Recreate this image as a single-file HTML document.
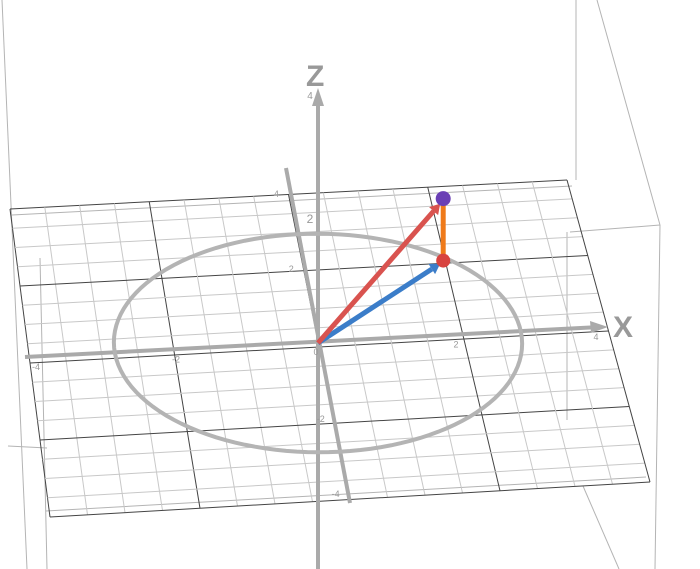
<!DOCTYPE html>
<html><head><meta charset="utf-8"><style>
html,body{margin:0;padding:0;background:#fff;}
svg{display:block;font-family:"Liberation Sans",sans-serif;}
</style></head><body>
<svg id="c" width="700" height="569" viewBox="0 0 700 569">
<g id="box" stroke="#b4b4b4" stroke-width="1" fill="none">
<line x1="2" y1="0" x2="27" y2="569"/>
<line x1="40" y1="258" x2="47" y2="569"/>
<line x1="8" y1="446" x2="47" y2="448"/>
<line x1="576" y1="0" x2="576" y2="180"/>
<line x1="597" y1="0" x2="660" y2="225"/>
<line x1="660" y1="225" x2="655" y2="569"/>
<line x1="570" y1="232" x2="660" y2="225"/>
<line x1="583" y1="486" x2="619" y2="569"/>
<line x1="567" y1="232" x2="567" y2="420"/>
<line x1="12" y1="215" x2="572" y2="186"/>
<line x1="46" y1="511" x2="646" y2="477"/>
</g>
<g id="grid"></g>
<g id="marks"></g>
</svg>
<script>
// data
const pointGround = [2, 2, 0];
const pointTop = [2, 2, 1];
const circleRadius = [2.9];
const xTicks = [-4, -2, 0, 2, 4];
const yTicks = [-4, -2, 2, 4];
const zTicks = [2, 4];

const NS = "http://www.w3.org/2000/svg";
const O = [318, 343], ex = [70, -3.7], ey = [-7.4, -37.5], ez = [0, -62];
function P(x, y, z) { return [O[0] + x*ex[0] + y*ey[0] + z*ez[0], O[1] + x*ex[1] + y*ey[1] + z*ez[1]]; }
function mk(tag, attrs, parent) {
  const e = document.createElementNS(NS, tag);
  for (const k in attrs) e.setAttribute(k, attrs[k]);
  parent.appendChild(e); return e;
}
const grid = document.getElementById('grid');
const marks = document.getElementById('marks');
const TL=[10,209], TR=[567,180], BR=[650,482], BL=[50,517];
function B(u,v){
  const top=[TL[0]+(TR[0]-TL[0])*u, TL[1]+(TR[1]-TL[1])*u];
  const bot=[BL[0]+(BR[0]-BL[0])*u, BL[1]+(BR[1]-BL[1])*u];
  return [top[0]+(bot[0]-top[0])*v, top[1]+(bot[1]-top[1])*v];
}
const N=16;
for(let i=0;i<=N;i++){
  const major = (i%4===0);
  const a=B(i/N,0), b=B(i/N,1);
  const l=mk('line',{x1:a[0],y1:a[1],x2:b[0],y2:b[1],stroke:major?'#444':'#c8c8c8','stroke-width':1},grid);
  
  
  const c=B(0,i/N), d=B(1,i/N);
  const m=mk('line',{x1:c[0],y1:c[1],x2:d[0],y2:d[1],stroke:major?'#444':'#c8c8c8','stroke-width':1},grid);
  
  
}
const ax = mk('line',{x1:25,y1:357,x2:600,y2:327,stroke:'#aaa','stroke-width':4},marks);
 
const axh = mk('polygon',{points:'608,327 590,321 591,333',fill:'#aaa'},marks);
 
const ay = mk('line',{x1:350,y1:503,x2:286,y2:168,stroke:'#aaa','stroke-width':4},marks);
 
const az = mk('line',{x1:318,y1:569,x2:318,y2:100,stroke:'#aaa','stroke-width':4},marks);
 
const azh = mk('polygon',{points:'318,88 312,106 324,106',fill:'#aaa'},marks);
 
let pts=[];
for(let k=0;k<=120;k++){const t=k/120*2*Math.PI;const p=P(circleRadius[0]*Math.cos(t),circleRadius[0]*Math.sin(t),0);pts.push(p.join(','));}
const circ=mk('polyline',{points:pts.join(' '),fill:'none',stroke:'#b4b4b4','stroke-width':4},marks);
 
function lab(t,p,name,size){const e=mk('text',{x:p[0],y:p[1],fill:'#999','font-size':size||9,'text-anchor':'middle'},marks);e.textContent=t;
  
  }
xTicks.forEach(v=>{const p=P(v,0,0);lab(String(v),[p[0]-2,p[1]+12],'x-tick-label');});
yTicks.forEach(v=>{const p=P(0,v,0);lab(String(v),[p[0]-12,p[1]+4],'y-tick-label');});
zTicks.forEach(v=>{const p=P(0,0,v);lab(String(v),[p[0]-8,p[1]+4],'z-tick-label',v===2?12:10);});
const xl=mk('text',{x:613,y:337,fill:'#999','font-size':30,'font-weight':'bold'},marks);xl.textContent='X';
 
const zl=mk('text',{x:306,y:86,fill:'#999','font-size':30,'font-weight':'bold'},marks);zl.textContent='Z';
 
function arrow(a,b,col,name){
  const dx=b[0]-a[0],dy=b[1]-a[1],L=Math.hypot(dx,dy),ux=dx/L,uy=dy/L;
  const e=[b[0]-ux*10,b[1]-uy*10];
  const g=mk('g',{},marks);
  
  
  mk('line',{x1:a[0],y1:a[1],x2:e[0],y2:e[1],stroke:col,'stroke-width':5},g);
  mk('polygon',{points:`${b[0]},${b[1]} ${e[0]-uy*6},${e[1]+ux*6} ${e[0]+uy*6},${e[1]-ux*6}`,fill:col},g);
}
const o=P(0,0,0), g0=P(...pointGround), t0=P(...pointTop);
arrow(o,[g0[0]-3,g0[1]+3],'#3b7dc9','blue-vector');
arrow(o,[t0[0]-3,t0[1]+5],'#d9534f','red-vector');
const seg=mk('line',{x1:g0[0],y1:g0[1],x2:t0[0],y2:t0[1],stroke:'#ef7a1a','stroke-width':5},marks);
 
const s1=mk('circle',{cx:g0[0],cy:g0[1],r:7,fill:'#d8433f'},marks);
 
const s2=mk('circle',{cx:t0[0],cy:t0[1],r:7.5,fill:'#6a3fb5'},marks);
 
</script>
</body></html>
